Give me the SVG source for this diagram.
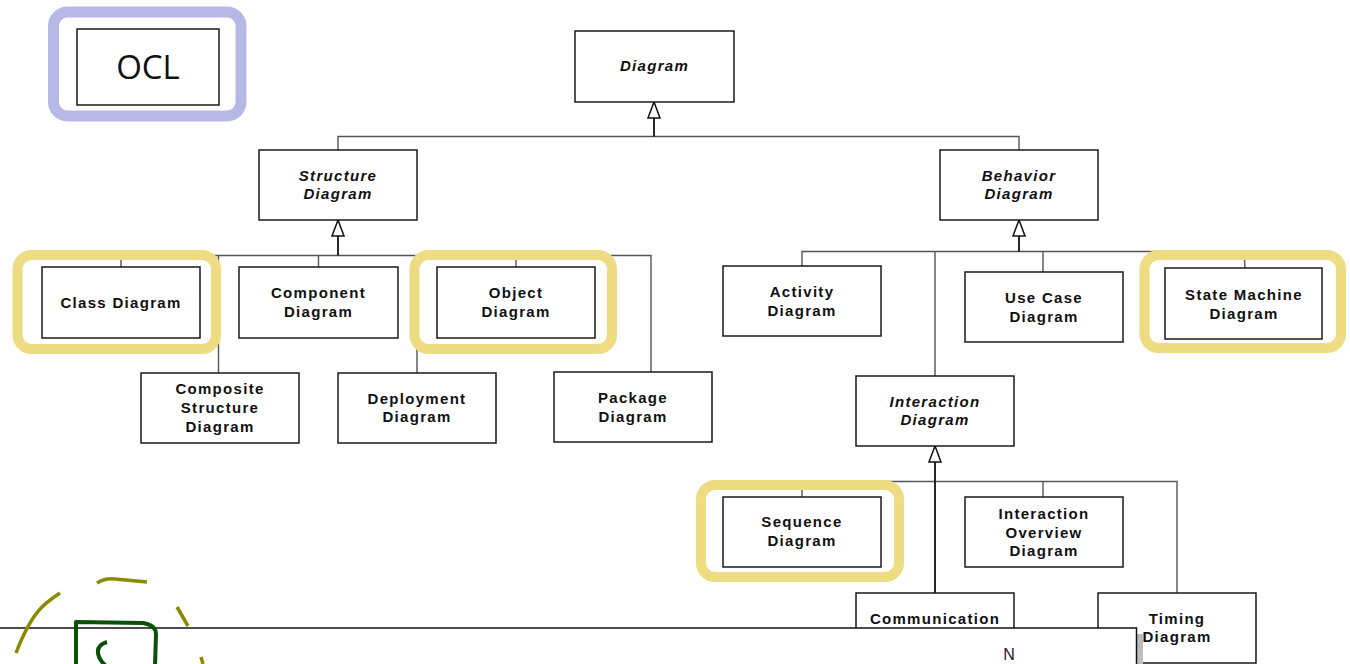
<svg xmlns="http://www.w3.org/2000/svg" width="1350" height="664" viewBox="0 0 1350 664">
<style>
.box{fill:#fff;stroke:#1a1a1a;stroke-width:1.5}
.lbl{font-family:"Liberation Sans",Arial,sans-serif;font-weight:bold;font-size:15px;letter-spacing:1.3px;text-anchor:middle;fill:#111}
.it{font-style:italic}
.con{fill:none;stroke:#555;stroke-width:1.4}
.stem{fill:none;stroke:#111;stroke-width:1.8;marker-end:url(#gen)}
.hl{fill:none;stroke:#eedc82;stroke-width:10}
.olive{fill:none;stroke:#8c8a00;stroke-width:3.5;stroke-linecap:butt}
.green{fill:none;stroke:#0b4f0b;stroke-width:4;stroke-linejoin:round}
</style>
<defs>
<marker id="gen" viewBox="-17 -7 18 14" refX="0" refY="0" markerWidth="18" markerHeight="14" markerUnits="userSpaceOnUse" orient="auto">
<path d="M0,0 L-16,-6 L-16,6 Z" fill="#fff" stroke="#111" stroke-width="1.5"/>
</marker>
</defs>
<rect width="1350" height="664" fill="#fff"/>

<g id="connectors">
<path class="con" d="M338,150 V136.5 H1019 V150"/>
<path class="stem" d="M654,136.5 V102"/>
<path class="con" d="M121,267 V255.5 H651 V372"/>
<path class="con" d="M218.5,255.5 V373 M318.5,255.5 V267 M516,255.5 V267 M417,255.5 V373"/>
<path class="stem" d="M338,255.5 V220"/>
<path class="con" d="M802,266 V251.5 H1244 L1245,268"/>
<path class="con" d="M935,251.5 V376 M1043,251.5 V272"/>
<path class="stem" d="M1019,251.5 V220"/>
<path class="con" d="M802,497 V481.5 H1177 V593 M1043,481.5 V497"/>
<path class="stem" d="M935,593 V446"/>
</g>

<g id="ocl">
<rect class="box" x="77" y="29" width="142" height="76"/>
<text x="148" y="79" font-family="'Open Sans','DejaVu Sans',sans-serif" font-size="33" text-anchor="middle" fill="#111">OCL</text>
</g>
<g id="diagram"><rect class="box" x="575" y="31" width="159" height="71"/><text class="lbl it" x="654.5" y="71">Diagram</text></g>
<g id="structure"><rect class="box" x="259" y="150" width="158" height="70"/><text class="lbl it" x="338" y="181">Structure</text><text class="lbl it" x="338" y="199">Diagram</text></g>
<g id="behavior"><rect class="box" x="940" y="150" width="158" height="70"/><text class="lbl it" x="1019" y="181">Behavior</text><text class="lbl it" x="1019" y="199">Diagram</text></g>
<g id="class"><rect class="box" x="42" y="267" width="158" height="71"/><text class="lbl" x="121" y="308">Class Diagram</text></g>
<g id="component"><rect class="box" x="239" y="267" width="159" height="71"/><text class="lbl" x="318.5" y="298">Component</text><text class="lbl" x="318.5" y="317">Diagram</text></g>
<g id="object"><rect class="box" x="437" y="267" width="158" height="71"/><text class="lbl" x="516" y="298">Object</text><text class="lbl" x="516" y="317">Diagram</text></g>
<g id="composite"><rect class="box" x="141" y="373" width="158" height="70"/><text class="lbl" x="220" y="394">Composite</text><text class="lbl" x="220" y="413">Structure</text><text class="lbl" x="220" y="432">Diagram</text></g>
<g id="deployment"><rect class="box" x="338" y="373" width="158" height="70"/><text class="lbl" x="417" y="404">Deployment</text><text class="lbl" x="417" y="422">Diagram</text></g>
<g id="package"><rect class="box" x="554" y="372" width="158" height="70"/><text class="lbl" x="633" y="403">Package</text><text class="lbl" x="633" y="422">Diagram</text></g>
<g id="activity"><rect class="box" x="723" y="266" width="158" height="70"/><text class="lbl" x="802" y="297">Activity</text><text class="lbl" x="802" y="316">Diagram</text></g>
<g id="usecase"><rect class="box" x="965" y="272" width="158" height="70"/><text class="lbl" x="1044" y="303">Use Case</text><text class="lbl" x="1044" y="322">Diagram</text></g>
<g id="statemachine"><rect class="box" x="1165" y="268" width="157" height="71"/><text class="lbl" x="1244" y="300">State Machine</text><text class="lbl" x="1244" y="319">Diagram</text></g>
<g id="interaction"><rect class="box" x="856" y="376" width="158" height="70"/><text class="lbl it" x="935" y="407">Interaction</text><text class="lbl it" x="935" y="425">Diagram</text></g>
<g id="sequence"><rect class="box" x="723" y="497" width="158" height="70"/><text class="lbl" x="802" y="527">Sequence</text><text class="lbl" x="802" y="546">Diagram</text></g>
<g id="ioverview"><rect class="box" x="965" y="497" width="158" height="70"/><text class="lbl" x="1044" y="519">Interaction</text><text class="lbl" x="1044" y="538">Overview</text><text class="lbl" x="1044" y="556">Diagram</text></g>
<g id="communication"><rect class="box" x="856" y="593" width="158" height="70"/><text class="lbl" x="935" y="624">Communication</text></g>
<g id="timing"><rect class="box" x="1098" y="593" width="158" height="70"/><text class="lbl" x="1177" y="624">Timing</text><text class="lbl" x="1177" y="642">Diagram</text></g>

<g id="highlights">
<rect x="53.5" y="12" width="187.5" height="104" rx="14" fill="none" stroke="#b8b8e6" stroke-width="11"/>
<rect class="hl" x="17.5" y="255" width="198.5" height="94" rx="14"/>
<rect class="hl" x="414.5" y="255" width="197.5" height="94" rx="14"/>
<rect class="hl" x="1144.5" y="255" width="196.5" height="93" rx="14"/>
<rect class="hl" x="701" y="485" width="198" height="92" rx="14"/>
</g>

<g id="overlay">
<rect x="1137" y="634" width="6" height="40" fill="#bdbdbd"/>
<rect x="-2" y="628" width="1138.5" height="50" fill="#fff" stroke="#111" stroke-width="1.5"/>
<text x="1009" y="660" font-family="'Liberation Sans',Arial,sans-serif" font-size="16" text-anchor="middle" fill="#222">N</text>
</g>

<g id="sketch">
<path class="olive" d="M16,653 C24,632 32,617 42,607 C48,601 54,597 60,593"/>
<path class="olive" d="M97,583 Q105,578 115,579 L147,582"/>
<path class="olive" d="M177,607 L188,626"/>
<path class="olive" d="M201,657 L203,664"/>
<path class="green" d="M76,666 L76,622 L143,623 Q156,625 156,634 L155,666"/>
<path class="green" d="M107,642 Q97,645 98,653 Q99,660 106,666"/>
</g>
</svg>
